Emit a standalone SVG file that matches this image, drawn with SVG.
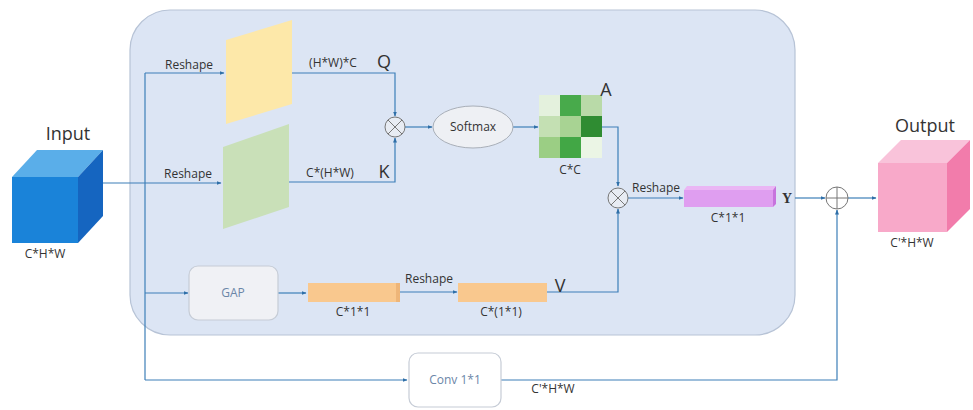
<svg xmlns="http://www.w3.org/2000/svg" width="973" height="410" viewBox="0 0 973 410">
<defs>
<marker id="ah" viewBox="0 0 10 10" refX="9" refY="5" markerWidth="5" markerHeight="5" orient="auto" markerUnits="userSpaceOnUse">
<path d="M0,1 L10,5 L0,9 z" fill="#2f6fa8"/>
</marker>
<style>
.t{font-family:"Open Sans","Noto Sans","DejaVu Sans",sans-serif;fill:#333;}
.s{font-size:12px;}
.big{font-size:18px;}
.lbl{font-size:18px;fill:#333;}
.ln{fill:none;stroke:#3d7fb8;stroke-width:1.2;}
.op{fill:#e8ecf3;stroke:#777;stroke-width:1;}
.box{stroke:#c6ccd6;stroke-width:1.2;}
.boxt{font-family:"Open Sans","Noto Sans",sans-serif;font-size:12px;fill:#6b86a8;}
</style>
</defs>
<rect width="973" height="410" fill="#ffffff"/>
<g id="panel"><rect x="130" y="10" width="665" height="325" rx="40" fill="#dce5f4" stroke="#b7c3d6" stroke-width="1.2"/></g>

<g id="connectors">
<path class="ln" d="M103,183 H221" marker-end="url(#ah)"/>
<path class="ln" d="M145,73 V380"/>
<path class="ln" d="M145,73 H224" marker-end="url(#ah)"/>
<path class="ln" d="M292,73 H395 V116" marker-end="url(#ah)"/>
<path class="ln" d="M288,182 H395 V138" marker-end="url(#ah)"/>
<path class="ln" d="M405,127 H432" marker-end="url(#ah)"/>
<path class="ln" d="M513,127 H538" marker-end="url(#ah)"/>
<path class="ln" d="M602,127 H618 V186" marker-end="url(#ah)"/>
<path class="ln" d="M628,198 H683" marker-end="url(#ah)"/>
<path class="ln" d="M795,198 H825" marker-end="url(#ah)"/>
<path class="ln" d="M848,198 H876" marker-end="url(#ah)"/>
<path class="ln" d="M145,293 H188" marker-end="url(#ah)"/>
<path class="ln" d="M278,293 H306" marker-end="url(#ah)"/>
<path class="ln" d="M400,292 H457" marker-end="url(#ah)"/>
<path class="ln" d="M547,292 H618 V209" marker-end="url(#ah)"/>
<path class="ln" d="M145,380 H407" marker-end="url(#ah)"/>
<path class="ln" d="M501,380 H837 V210" marker-end="url(#ah)"/>
</g>

<g id="input">
<polygon points="12,177 37,150 103,150 78,177" fill="#5aaee9"/>
<polygon points="78,177 103,150 103,216 78,243" fill="#1565c0"/>
<rect x="12" y="177" width="66" height="66" fill="#1a83d9"/>
<text class="t big" x="68" y="140" text-anchor="middle">Input</text>
<text class="t s" x="45" y="258" text-anchor="middle">C*H*W</text>
</g>

<g id="labels-reshape">
<text class="t s" x="189" y="69" text-anchor="middle">Reshape</text>
<text class="t s" x="188" y="178" text-anchor="middle">Reshape</text>
<text class="t s" x="429" y="283" text-anchor="middle">Reshape</text>
<text class="t s" x="656" y="192" text-anchor="middle">Reshape</text>
</g>

<g id="q">
<polygon points="226,40 292,20 292,104 226,124" fill="#fde8a9"/>
<text class="t s" x="333" y="67" text-anchor="middle">(H*W)*C</text>
<text class="t lbl" x="384" y="68" text-anchor="middle">Q</text>
</g>

<g id="k">
<polygon points="223,147 289,124 289,207 223,229" fill="#c9e0b8"/>
<text class="t s" x="330" y="177" text-anchor="middle">C*(H*W)</text>
<text class="t lbl" x="384" y="178" text-anchor="middle">K</text>
</g>

<g id="mul1">
<circle class="op" cx="395" cy="127" r="10"/>
<path d="M388,120 L402,134 M402,120 L388,134" stroke="#777" stroke-width="1"/>
</g>

<g id="softmax">
<ellipse cx="473" cy="127" rx="40" ry="21" fill="#eef0f4" stroke="#a9afb8" stroke-width="1"/>
<text class="t s" x="473" y="131" text-anchor="middle">Softmax</text>
</g>

<g id="attn">
<rect x="539" y="95" width="21" height="21" fill="#e4f1dd"/>
<rect x="560" y="95" width="21" height="21" fill="#48aa4b"/>
<rect x="581" y="95" width="21" height="21" fill="#b9daa8"/>
<rect x="539" y="116" width="21" height="21" fill="#c4e0b3"/>
<rect x="560" y="116" width="21" height="21" fill="#a8d393"/>
<rect x="581" y="116" width="21" height="21" fill="#2f8c32"/>
<rect x="539" y="137" width="21" height="21" fill="#9bce84"/>
<rect x="560" y="137" width="21" height="21" fill="#42a745"/>
<rect x="581" y="137" width="21" height="21" fill="#ebf5e5"/>
<text class="t lbl" x="606" y="96" text-anchor="middle">A</text>
<text class="t s" x="570" y="174" text-anchor="middle">C*C</text>
</g>

<g id="mul2">
<circle class="op" cx="618" cy="198" r="10"/>
<path d="M611,191 L625,205 M625,191 L611,205" stroke="#777" stroke-width="1"/>
</g>

<g id="y">
<polygon points="684,190 687,186 776,186 773,190" fill="#eab6f4"/>
<polygon points="773,190 776,186 776,204 773,207" fill="#c774dd"/>
<rect x="684" y="190" width="89" height="17" fill="#df9ef0"/>
<text class="t s" x="728" y="222" text-anchor="middle">C*1*1</text>
<text x="787" y="203" text-anchor="middle" style="font-family:'Liberation Serif',serif;font-size:14px;font-weight:bold;fill:#333">Y</text>
</g>

<g id="add">
<circle cx="837" cy="198" r="11" fill="#ffffff" stroke="#777" stroke-width="1"/>
<path d="M826,198 H848 M837,187 V209" stroke="#777" stroke-width="1"/>
</g>

<g id="output">
<polygon points="878,163 901,140 970,140 947,163" fill="#f9c3da"/>
<polygon points="947,163 970,140 970,209 947,232" fill="#f27cab"/>
<rect x="878" y="163" width="69" height="69" fill="#f8a9c9"/>
<text class="t big" x="925" y="132" text-anchor="middle">Output</text>
<text class="t s" x="912" y="247" text-anchor="middle">C'*H*W</text>
</g>

<g id="gap">
<rect class="box" x="189" y="266" width="89" height="54" rx="9" fill="#f0f1f5"/>
<text class="boxt" x="233" y="297" text-anchor="middle">GAP</text>
</g>

<g id="v1">
<rect x="308" y="283" width="92" height="19" fill="#f9c88e"/>
<rect x="396" y="283" width="4" height="19" fill="#eeb578"/>
<text class="t s" x="353" y="316" text-anchor="middle">C*1*1</text>
</g>

<g id="v2">
<rect x="458" y="283" width="89" height="19" fill="#f9c88e"/>
<text class="t s" x="501" y="316" text-anchor="middle">C*(1*1)</text>
<text class="t lbl" x="560" y="292" text-anchor="middle">V</text>
</g>

<g id="conv">
<rect class="box" x="409" y="353" width="92" height="54" rx="9" fill="#ffffff"/>
<text class="boxt" x="455" y="384" text-anchor="middle">Conv 1*1</text>
<text class="t s" x="553" y="393" text-anchor="middle">C'*H*W</text>
</g>
</svg>
